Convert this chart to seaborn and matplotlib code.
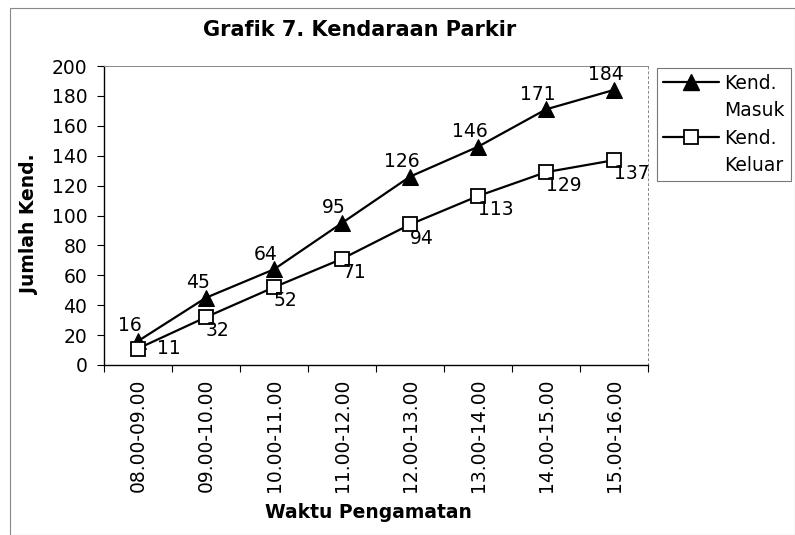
import matplotlib
matplotlib.use("Agg")
import matplotlib.pyplot as plt
import seaborn as sns
import pandas as pd
from matplotlib.ticker import FixedLocator, NullFormatter
from matplotlib.patches import Rectangle
from matplotlib.lines import Line2D

# Data
waktu = ["08.00-09.00", "09.00-10.00", "10.00-11.00", "11.00-12.00",
         "12.00-13.00", "13.00-14.00", "14.00-15.00", "15.00-16.00"]
masuk = [16, 45, 64, 95, 126, 146, 171, 184]
keluar = [11, 32, 52, 71, 94, 113, 129, 137]

df = pd.DataFrame({"waktu": waktu, "masuk": masuk, "keluar": keluar})

sns.set_style("ticks")
plt.rcParams['font.family'] = ['DejaVu Sans']
plt.rcParams['text.color'] = 'black'
plt.rcParams['axes.labelcolor'] = 'black'
plt.rcParams['xtick.color'] = 'black'
plt.rcParams['ytick.color'] = 'black'

fig = plt.figure(figsize=(7.95, 5.35), dpi=100)
ax = fig.add_axes([104 / 795, 1 - 365 / 535, 544 / 795, 299 / 535])

x = list(range(len(waktu)))
sns.lineplot(x=x, y=df["masuk"], ax=ax, color="black", lw=1.6, marker="^",
             markersize=11, markerfacecolor="black", markeredgecolor="black",
             legend=False)
sns.lineplot(x=x, y=df["keluar"], ax=ax, color="black", lw=1.6, marker="s",
             markersize=10, markerfacecolor="white", markeredgecolor="black",
             markeredgewidth=1.3, legend=False)

# Data labels
for i, v in enumerate(masuk):
    ax.annotate(str(v), (i, v), xytext=(-6, 7), textcoords="offset points",
                ha="center", va="baseline", fontsize=13.5)
for i, v in enumerate(keluar):
    off = (14, 7) if i == 0 else (0, -3)
    ax.annotate(str(v), (i, v), xytext=off, textcoords="offset points",
                ha="left", va="top", fontsize=13.5)

ax.set_xlim(-0.5, len(waktu) - 0.5)
ax.set_ylim(0, 200)
ax.set_yticks(range(0, 201, 20))
ax.set_xticks(x)
ax.set_xticklabels(waktu, rotation=90, fontsize=13.5)
ax.tick_params(axis="x", which="major", length=0, pad=10)
ax.xaxis.set_minor_locator(FixedLocator([i + 0.5 for i in range(-1, len(waktu))]))
ax.xaxis.set_minor_formatter(NullFormatter())
ax.tick_params(axis="x", which="minor", length=5, width=0.8, direction="out")
ax.tick_params(axis="y", labelsize=13.5, length=5, width=0.8, pad=7)

for side in ["left", "bottom"]:
    ax.spines[side].set_linewidth(1.0)
    ax.spines[side].set_color("black")
for side in ["top", "right"]:
    ax.spines[side].set_linewidth(0.7)
    ax.spines[side].set_color("#888888")
ax.spines["right"].set_linestyle((0, (2, 3)))

ax.set_xlabel("Waktu Pengamatan", fontsize=13.5, fontweight="bold")
ax.xaxis.set_label_coords((368 - 104) / 544, (365 - 512) / 299)
ax.xaxis.label.set_va("center")
ax.set_ylabel("Jumlah Kend.", fontsize=13.5, fontweight="bold")
ax.yaxis.set_label_coords((30 - 104) / 544, 0.47)
ax.yaxis.label.set_va("center")

fig.text(360 / 795, 1 - 30 / 535, "Grafik 7. Kendaraan Parkir", ha="center",
         va="center", fontsize=15, fontweight="bold")

# legend: marker sits beside the first line of each two-line label
h_masuk = Line2D([], [], color="black", lw=1.6, marker="^", markersize=11)
h_keluar = Line2D([], [], color="black", lw=1.6, marker="s", markersize=10,
                  markerfacecolor="white", markeredgewidth=1.3)
blank = Line2D([], [], color="none")
leg = fig.legend([h_masuk, blank, h_keluar, blank],
                 ["Kend.", "Masuk", "Kend.", "Keluar"],
                 loc="upper left", bbox_to_anchor=(657 / 795, 1 - 68 / 535),
                 frameon=True, fancybox=False, fontsize=13.5, handlelength=3.0,
                 handletextpad=0.3, borderaxespad=0, borderpad=0.3,
                 labelspacing=0.45)
leg.get_frame().set_edgecolor("#555555")
leg.get_frame().set_linewidth(0.8)

# outer frame of the chart
fig.patches.append(Rectangle((10 / 795, 0), 1 - 10 / 795, 1 - 8 / 535,
                             transform=fig.transFigure, fill=False,
                             edgecolor="#888888", lw=0.8))

fig.savefig("out.png", dpi=100)
